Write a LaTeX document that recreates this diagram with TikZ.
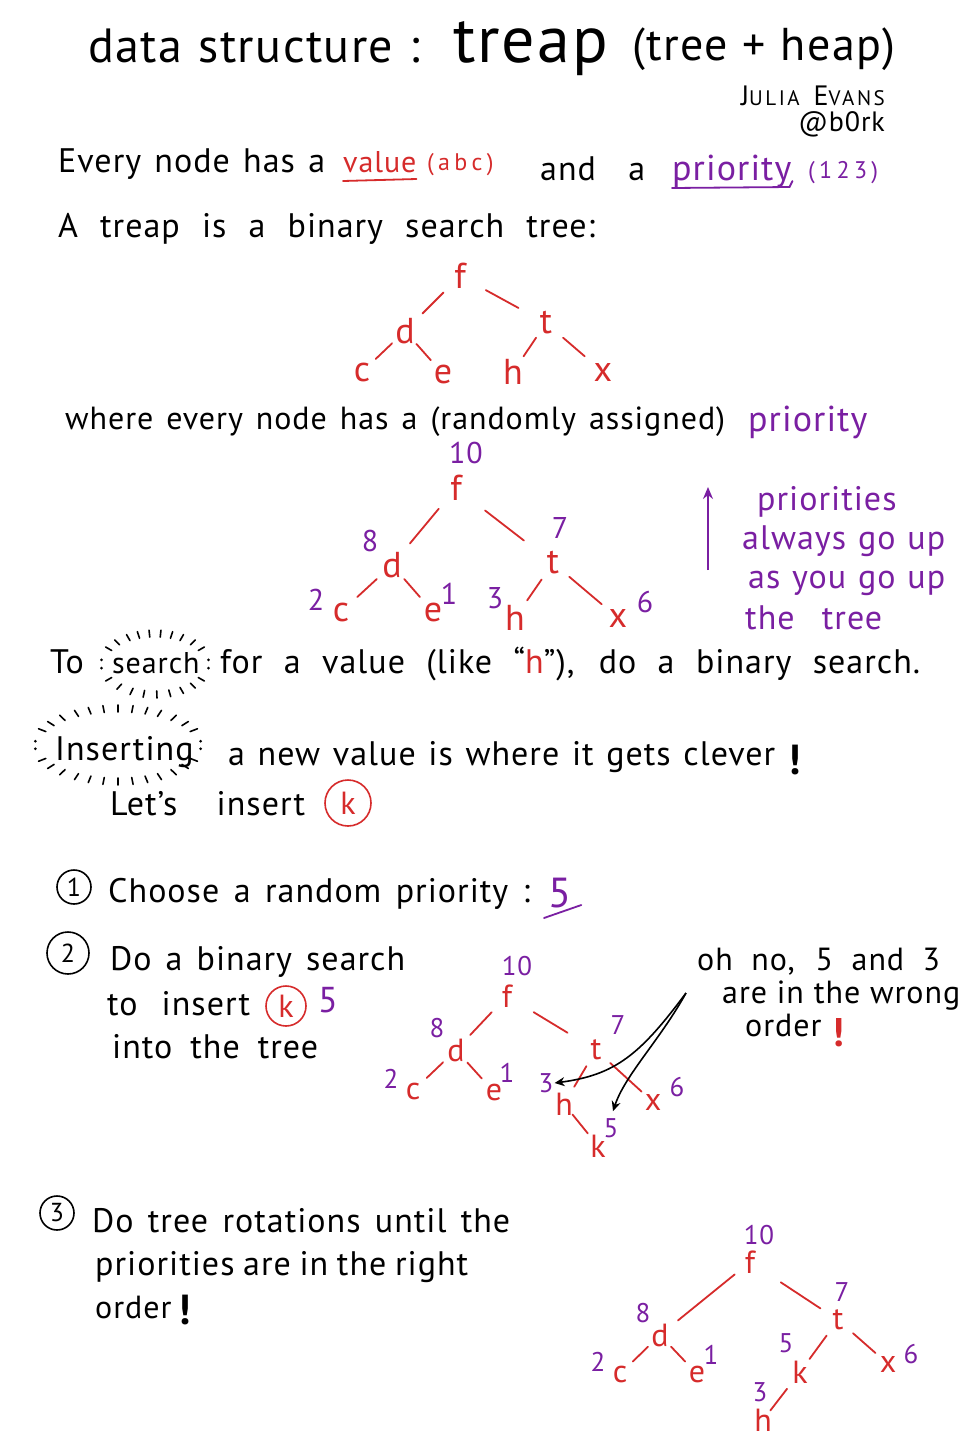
\documentclass[tikz,border=0pt]{standalone}
\usepackage{fontspec}
\setmainfont[LetterSpace=3]{PT Sans}
\usetikzlibrary{arrows.meta,calc}
\definecolor{rd}{HTML}{D62B2B}
\definecolor{pp}{HTML}{7A1FA2}
\newcommand\fs[1]{\fontsize{#1}{#1}\selectfont}
\newcommand\W[2]{\makebox[#1pt][s]{#2}}
\newcommand\edg[4]{\draw[ed] ($(#1)!#3!(#2)$) -- ($(#1)!#4!(#2)$);}
\newcommand\ed[2]{\edg{#1}{#2}{0.3}{0.68}}
\tikzset{
  tx/.style={anchor=base west, inner sep=0pt, font=\fs{34}},
  tv/.style={text=rd, inner sep=1pt, font=\fs{36}},
  tvs/.style={text=rd, inner sep=1pt, font=\fs{32}},
  pr/.style={text=pp, inner sep=1pt, font=\fs{30}},
  prs/.style={text=pp, inner sep=1pt, font=\fs{27}},
  ed/.style={rd, line width=1.8pt, line cap=round},
  burst/.style={line width=1.6pt, line cap=round},
  cnum/.style={circle, draw, line width=1.6pt, inner sep=0pt, minimum size=34pt, font=\fs{26}},
  ck/.style={circle, draw=rd, text=rd, line width=1.6pt, inner sep=0pt, font=\fs{32}}
}
\begin{document}
\begin{tikzpicture}[x=1pt,y=-1pt]
\fill[white] (0,0) rectangle (963,1444);
\useasboundingbox (0,0) rectangle (963,1444);

% title
\node[tx, font=\fs{48}] (ttl1) at (88,62) {\W{332}{data structure :}};
\node[tx, font=\fs{66}] (ttl2) at (453,62) {treap};
\node[tx, font=\fs{46}] (ttl3) at (632,60) {\W{263}{(tree + heap)}};
\node[anchor=base east, inner sep=0pt, font=\addfontfeature{LetterSpace=12}] (auth) at (885,105) {{\fs{28}J}{\fs{21}ULIA}\hspace{14pt}{\fs{28}E}{\fs{21}VANS}};
\node[anchor=base east, inner sep=0pt, font=\fs{28}] (hndl) at (885,131) {@b0rk};

% line 1
\node[tx] (l1a) at (58,172) {\W{267}{Every node has a}};
\node[tx, text=rd, font=\fs{30}] (val) at (343,172) {value};
\draw[rd, line width=1.8pt, line cap=round] ($(val.base west)+(0,9)$) -- ($(val.base east)+(0,7)$);
\node[tx, text=rd, font=\fs{24}\addfontfeature{LetterSpace=18}] (abc) at (427,170) {(abc)};
\node[tx] (anda) at (540,180) {\W{105}{and a}};
\node[tx, text=pp, font=\fs{36}] (prio) at (672,180) {priority};
\draw[pp, line width=1.8pt, line cap=round] ($(prio.base west)+(0,8)$) -- ($(prio.base east)+(-2,7)$) -- ++(3,-6);
\node[tx, text=pp, font=\fs{24}\addfontfeature{LetterSpace=18}] (p123) at (808,178) {(123)};

% line 2
\node[tx] (l2) at (58,237) {\W{537}{A treap is a binary search tree:}};

% tree 1
\node[tv] (a-f) at (460,276) {f};
\node[tv] (a-d) at (405,331) {d};
\node[tv] (a-t) at (546,323) {t};
\node[tv] (a-c) at (362,372) {c};
\node[tv] (a-e) at (443,374) {e};
\node[tv] (a-h) at (513,372) {h};
\node[tv] (a-x) at (603,372) {x};
\ed{a-f}{a-d}\ed{a-f}{a-t}\ed{a-d}{a-c}\ed{a-d}{a-e}\ed{a-t}{a-h}\ed{a-t}{a-x}

% line 3
\node[tx, font=\fs{32}] (l3) at (65,429) {\W{660}{where every node has a (randomly assigned)}};
\node[tx, text=pp, font=\fs{36}] (l3p) at (748,431) {priority};

% tree 2
\node[tv] (b-f) at (456,488) {f};
\node[tv] (b-d) at (392,565) {d};
\node[tv] (b-t) at (553,563) {t};
\node[tv] (b-c) at (341,612) {c};
\node[tv] (b-e) at (433,612) {e};
\node[tv] (b-h) at (515,618) {h};
\node[tv] (b-x) at (618,618) {x};
\node[pr] (b-pf) at (466,453) {10};
\node[pr] (b-pd) at (370,541) {8};
\node[pr] (b-pt) at (560,528) {7};
\node[pr] (b-pc) at (316,600) {2};
\node[pr] (b-pe) at (449,594) {1};
\node[pr] (b-ph) at (495,598) {3};
\node[pr] (b-px) at (645,602) {6};
\edg{b-f}{b-d}{0.27}{0.72}\edg{b-f}{b-t}{0.3}{0.7}\ed{b-d}{b-c}\ed{b-d}{b-e}\ed{b-t}{b-h}\edg{b-t}{b-x}{0.25}{0.75}

% priorities arrow
\coordinate (upA) at (708,570);
\coordinate (upB) at (708,487);
\draw[pp, line width=1.7pt, -{Stealth[length=12pt,width=10pt]}] (upA) -- (upB);
\node[tx, text=pp] (n1) at (757,510) {priorities};
\node[tx, text=pp] (n2) at (742,549) {\W{203}{always go up}};
\node[tx, text=pp] (n3) at (748,588) {\W{197}{as you go up}};
\node[tx, text=pp] (n4) at (745,629) {\W{137}{the tree}};

% search line
\node[tx] (to) at (50,673) {To};
\node[tx, font=\fs{30}] (srch) at (112,673) {search};
\coordinate (sb) at (155,664);
\foreach \a in {30,45,60,72,84,96,108,120,135,150,210,228,244,258,272,286,300,315,330}
  \draw[burst] ($(sb)+({50*cos(\a)},{-27*sin(\a)})$) -- ($(sb)+({57*cos(\a)},{-34*sin(\a)})$);
\foreach \a in {8,-8,172,188}
  \fill ($(sb)+({54*cos(\a)},{-30*sin(\a)})$) circle (1.5pt);
\node[tx] (srch2) at (220,673) {\W{700}{for a value (like “\textcolor{rd}{h}”), do a binary search.}};

% inserting line
\node[tx] (ins) at (55,760) {Inserting};
\coordinate (ib) at (118,745);
\foreach \a in {24,36,48,60,70,80,90,100,110,120,132,144,156,204,216,228,240,250,260,270,280,290,300,312,324,336}
  \draw[burst] ($(ib)+({79*cos(\a)},{-33*sin(\a)})$) -- ($(ib)+({87*cos(\a)},{-40*sin(\a)})$);
\foreach \a in {6,-6,174,186}
  \fill ($(ib)+({83*cos(\a)},{-36*sin(\a)})$) circle (1.5pt);
\node[tx] (ins2) at (228,765) {\W{547}{a new value is where it gets clever}};
\node[tx, font=\fs{42}\bfseries] (exc1) at (788,774) {!};
\node[tx] (lets) at (110,815) {\W{195}{Let's insert}};
\node[ck, minimum size=46pt] (k1) at (348,803) {k};

% step 1
\node[cnum] (c1) at (74,887) {1};
\node[tx] (s1) at (108,902) {\W{422}{Choose a random priority :}};
\node[tx, text=pp, font=\fs{42}] (five) at (548,907) {5};
\draw[pp, line width=1.8pt, line cap=round] ($(five.base west)+(-4,11)$) -- ($(five.base east)+(10,-2)$);

% step 2
\node[cnum, minimum size=42pt] (c2) at (68,953) {2};
\node[tx] (s2a) at (110,970) {\W{295}{Do a binary search}};
\node[tx] (s2b) at (107,1015) {\W{143}{to insert}};
\node[ck, minimum size=40pt] (k2) at (286,1006) {k};
\node[tx, text=pp, font=\fs{36}] (s2five) at (318,1012) {5};
\node[tx] (s2c) at (112,1058) {\W{206}{into the tree}};

% tree 3
\node[tvs] (c-f) at (507,996) {f};
\node[tvs] (c-d) at (456,1050) {d};
\node[tvs] (c-t) at (596,1050) {t};
\node[tvs] (c-c) at (413,1091) {c};
\node[tvs] (c-e) at (494,1092) {e};
\node[tvs] (c-h) at (564,1104) {h};
\node[tvs] (c-x) at (653,1102) {x};
\node[tvs] (c-k) at (598,1146) {k};
\node[prs] (c-pf) at (517,966) {10};
\node[prs] (c-pd) at (437,1028) {8};
\node[prs] (c-pt) at (618,1025) {7};
\node[prs] (c-pc) at (391,1079) {2};
\node[prs] (c-pe) at (507,1073) {1};
\node[prs] (c-ph) at (546,1083) {3};
\node[prs] (c-px) at (677,1087) {6};
\node[prs] (c-pk) at (611,1128) {5};
\edg{c-f}{c-d}{0.3}{0.72}\edg{c-f}{c-t}{0.3}{0.68}\ed{c-d}{c-c}\ed{c-d}{c-e}\ed{c-t}{c-h}\edg{c-t}{c-x}{0.25}{0.8}\edg{c-h}{c-k}{0.25}{0.7}

% oh no note
\node[tx, font=\fs{32}] (oh1) at (697,970) {\W{243}{oh no, 5 and 3}};
\node[tx, font=\fs{32}] (oh2) at (722,1003) {\W{238}{are in the wrong}};
\node[tx, font=\fs{32}] (oh3) at (745,1036) {order};
\node[tx, text=rd, font=\fs{40}\bfseries] (exc2) at (832,1046) {!};
\coordinate (a0) at (686,993);
\draw[line width=1.6pt, -{Stealth[length=10pt,width=9pt]}] (a0) .. controls (640,1055) and (615,1075) .. (c-ph.east);
\draw[line width=1.6pt, -{Stealth[length=10pt,width=9pt]}] (a0) .. controls (660,1040) and (625,1075) .. ($(c-pk.north)+(2,-6)$);

% step 3
\node[cnum] (c3) at (57,1213) {3};
\node[tx] (s3a) at (92,1232) {\W{418}{Do tree rotations until the}};
\node[tx] (s3b) at (95,1275) {\W{373}{priorities are in the right}};
\node[tx, font=\fs{32}] (s3c) at (95,1318) {order};
\node[tx, font=\fs{42}\bfseries] (exc3) at (178,1324) {!};

% tree 4
\node[tvs] (d-f) at (750,1262) {f};
\node[tvs] (d-d) at (660,1335) {d};
\node[tvs] (d-t) at (838,1320) {t};
\node[tvs] (d-c) at (620,1374) {c};
\node[tvs] (d-e) at (697,1374) {e};
\node[tvs] (d-k) at (800,1372) {k};
\node[tvs] (d-h) at (763,1420) {h};
\node[tvs] (d-x) at (888,1364) {x};
\node[prs] (d-pf) at (759,1235) {10};
\node[prs] (d-pd) at (643,1313) {8};
\node[prs] (d-pt) at (842,1292) {7};
\node[prs] (d-pc) at (598,1362) {2};
\node[prs] (d-pe) at (711,1355) {1};
\node[prs] (d-pk) at (786,1343) {5};
\node[prs] (d-ph) at (760,1392) {3};
\node[prs] (d-px) at (911,1354) {6};
\edg{d-f}{d-d}{0.17}{0.8}\edg{d-f}{d-t}{0.35}{0.8}\ed{d-d}{d-c}\ed{d-d}{d-e}\edg{d-t}{d-k}{0.3}{0.75}\edg{d-t}{d-x}{0.3}{0.75}\edg{d-k}{d-h}{0.35}{0.8}
\end{tikzpicture}
\end{document}
